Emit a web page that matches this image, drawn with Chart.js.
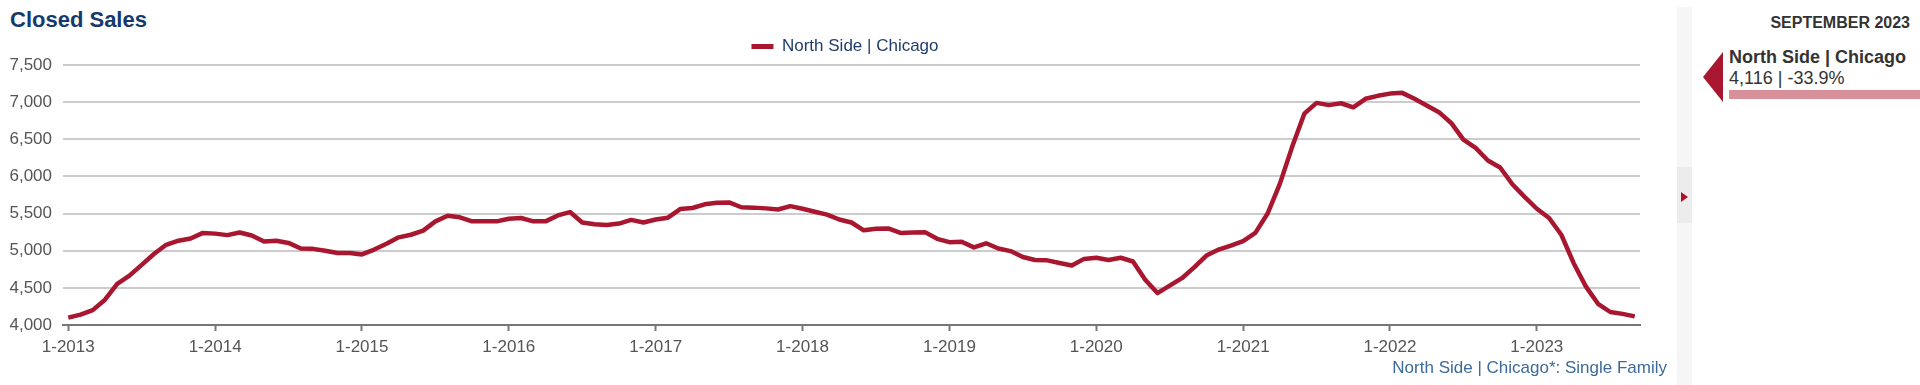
<!DOCTYPE html>
<html>
<head>
<meta charset="utf-8">
<script src="https://cdn.jsdelivr.net/npm/chart.js@4"></script>
<style>
  body { margin: 0; width: 1920px; height: 385px; overflow: hidden; background: #fff; font-family: "Liberation Sans", Arial, sans-serif; position: relative; }
  #titulo { position: absolute; left: 10px; top: 7px; font-size: 22px; font-weight: bold; color: #163a6b; }
  #grafico { position: absolute; left: 0; top: 0; width: 1690px; height: 385px; }
  #rodape { position: absolute; right: 253px; top: 358px; font-size: 17px; color: #3b6a9c; }
  .aba { position: absolute; top: -10px; height: 10px; border: 1px solid #ddd; border-radius: 4px; box-sizing: border-box; }
  #faixa { position: absolute; left: 1677px; top: 7px; width: 15px; height: 378px; background: #f6f6f6; }
  #faixaMeio { position: absolute; left: 1677px; top: 167px; width: 15px; height: 56px; background: #ececec; }
  #setaDir { position: absolute; left: 1681px; top: 192px; width: 0; height: 0; border-top: 5.5px solid transparent; border-bottom: 5.5px solid transparent; border-left: 7px solid #b0102a; }
  #mes { position: absolute; right: 10px; top: 14px; font-size: 16px; font-weight: bold; color: #333; }
  #setaEsq { position: absolute; left: 1703px; top: 52px; width: 0; height: 0; border-top: 25px solid transparent; border-bottom: 25px solid transparent; border-right: 20px solid #a8172f; }
  #nomeArea { position: absolute; left: 1729px; top: 47px; font-size: 18px; font-weight: bold; color: #333; }
  #valorArea { position: absolute; left: 1729px; top: 68px; font-size: 18px; color: #333; }
  #barraArea { position: absolute; left: 1729px; top: 90px; width: 191px; height: 9px; background: #d8919b; }
</style>
</head>
<body>
<div class="aba" style="left:1586px;width:101px"></div>
<div class="aba" style="left:1690px;width:133px"></div>
<div class="aba" style="left:1832px;width:100px"></div>
<div id="titulo">Closed Sales</div>
<div id="grafico"><canvas id="chartVendas"></canvas></div>
<div id="rodape">North Side | Chicago*: Single Family</div>
<div id="faixa"></div>
<div id="faixaMeio"></div>
<div id="setaDir"></div>
<div id="mes">SEPTEMBER 2023</div>
<div id="setaEsq"></div>
<div id="nomeArea">North Side | Chicago</div>
<div id="valorArea">4,116 | -33.9%</div>
<div id="barraArea"></div>

<script>
// Dados: vendas fechadas mensais, 1-2013 a 9-2023
const serieNome = 'North Side | Chicago';
const rotulosAnos = ['1-2013', '1-2014', '1-2015', '1-2016', '1-2017', '1-2018', '1-2019', '1-2020', '1-2021', '1-2022', '1-2023'];
const vendas = [
  4100, 4140, 4200, 4340, 4555, 4665, 4810, 4955, 5080, 5135, 5165, 5240,
  5230, 5210, 5245, 5205, 5125, 5135, 5105, 5030, 5025, 5000, 4970, 4970,
  4950, 5015, 5095, 5180, 5215, 5270, 5395, 5470, 5450, 5395, 5395, 5395,
  5430, 5440, 5395, 5395, 5475, 5520, 5380, 5355, 5345, 5365, 5415, 5380,
  5420, 5445, 5560, 5575, 5625, 5645, 5650, 5585, 5580, 5570, 5555, 5600,
  5565, 5525, 5485, 5420, 5380, 5275, 5295, 5300, 5240, 5245, 5250, 5160,
  5115, 5120, 5045, 5100, 5030, 4995, 4915, 4875, 4870, 4835, 4800, 4890,
  4905, 4875, 4905, 4855, 4610, 4430, 4530, 4630, 4775, 4935, 5015, 5070,
  5130, 5240, 5500, 5900, 6395, 6845, 6990, 6960, 6985, 6930, 7045, 7085,
  7115, 7125, 7045, 6955, 6865, 6720, 6495, 6385, 6215, 6120, 5895, 5725,
  5565, 5440, 5215, 4835, 4520, 4285, 4175, 4150, 4116
];

const corLinha = '#a8172f';
const fonte = { family: '"Liberation Sans", Arial, sans-serif', size: 17 };

const ctx = document.getElementById('chartVendas').getContext('2d');
new Chart(ctx, {
  type: 'line',
  data: {
    datasets: [{
      label: serieNome,
      data: vendas.map((v, i) => ({ x: i, y: v })),
      borderColor: corLinha,
      backgroundColor: corLinha,
      borderWidth: 4.5,
      pointRadius: 0,
      tension: 0,
      borderJoinStyle: 'round'
    }]
  },
  options: {
    responsive: true,
    maintainAspectRatio: false,
    animation: false,
    layout: { padding: { left: 0, right: 0, top: 28, bottom: 0 } },
    plugins: {
      tooltip: { enabled: false },
      legend: {
        position: 'top',
        labels: {
          color: '#1f3d6b',
          font: fonte,
          boxWidth: 22,
          boxHeight: 5,
          padding: 10,
          generateLabels: (chart) => Chart.defaults.plugins.legend.labels.generateLabels(chart)
            .map(l => Object.assign(l, { lineWidth: 0, fillStyle: corLinha, strokeStyle: corLinha }))
        }
      }
    },
    scales: {
      x: {
        type: 'linear',
        min: -0.43,
        max: 128.43,
        afterBuildTicks: (s) => { s.ticks = rotulosAnos.map((r, k) => ({ value: k * 12 })); },
        afterFit: (s) => { s.height = 60; },
        grid: { drawOnChartArea: false, drawTicks: true, tickLength: 6, tickColor: '#777', tickWidth: 2 },
        border: { color: '#777', width: 2 },
        ticks: {
          color: '#555',
          font: fonte,
          padding: 6,
          maxRotation: 0,
          autoSkip: false,
          callback: (v) => rotulosAnos[Math.round(v / 12)]
        }
      },
      y: {
        min: 4000,
        max: 7500,
        afterFit: (s) => { s.width = 63; },
        grid: { color: '#cccccc', lineWidth: 2, drawTicks: false },
        border: { display: false },
        ticks: {
          stepSize: 500,
          color: '#555',
          font: fonte,
          padding: 11,
          callback: (v) => v.toLocaleString('en-US')
        }
      },
      // eixo vazio à direita: só reserva espaço (legenda fica centrada como no original)
      yVazio: {
        position: 'right',
        display: true,
        afterFit: (s) => { s.width = 50; },
        grid: { display: false },
        border: { display: false },
        ticks: { display: false }
      }
    }
  }
});
</script>
</body>
</html>
